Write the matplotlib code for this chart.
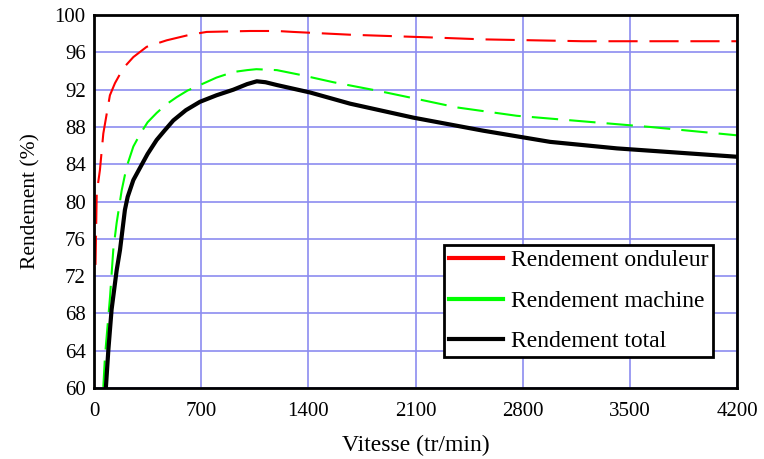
import matplotlib
matplotlib.use("Agg")
import matplotlib.pyplot as plt
from matplotlib.lines import Line2D

plt.rcParams['font.family'] = ['Liberation Serif', 'DejaVu Serif']
plt.rcParams['lines.scale_dashes'] = False

# Data
vitesse_onduleur = [10, 18, 39, 61, 104, 137, 191, 257, 344, 475, 627, 736, 1019, 1195, 1300,
                    1672, 2215, 2541, 3194, 4200]
rend_onduleur = [73.2, 80.9, 83.4, 87.3, 91.4, 92.7, 94.3, 95.5, 96.6, 97.3, 97.9, 98.2, 98.3, 98.3, 98.2,
                 97.9, 97.6, 97.4, 97.2, 97.2]

vitesse_machine = [61, 72, 105, 126, 148, 181, 213, 257, 300, 350, 409, 470, 540, 610, 692, 800, 910,
                   1000, 1060, 1194, 1345, 1563, 1848, 2110, 2368, 2760, 3195, 3631, 4200]
rend_machine = [60.1, 63.4, 69.8, 74.8, 77.7, 81.2, 83.7, 85.9, 87.2, 88.5, 89.5, 90.4, 91.2, 91.9, 92.5,
                93.3, 93.9, 94.1, 94.2, 94.1, 93.6, 92.8, 91.9, 91.0, 90.1, 89.2, 88.6, 88.0, 87.1]

vitesse_total = [78, 94, 115, 148, 170, 202, 220, 257, 300, 350, 409, 460, 518, 600, 692, 800, 910,
                 1000, 1063, 1120, 1194, 1411, 1672, 2085, 2541, 2978, 3414, 3851, 4200]
rend_total = [60.1, 64.1, 68.4, 72.6, 74.8, 79.1, 80.5, 82.3, 83.6, 85.1, 86.6, 87.6, 88.7, 89.8, 90.7,
              91.4, 92.0, 92.6, 92.9, 92.8, 92.5, 91.7, 90.5, 89.0, 87.6, 86.4, 85.7, 85.2, 84.8]

x_ticks = [0, 700, 1400, 2100, 2800, 3500, 4200]
y_ticks = [60, 64, 68, 72, 76, 80, 84, 88, 92, 96, 100]

fig = plt.figure(figsize=(7.64, 4.59), dpi=100)
ax = fig.add_axes([0.123, 0.155, 0.842, 0.812])

l1, = ax.plot(vitesse_onduleur, rend_onduleur, color='#ff0000', lw=1.5, dashes=(21, 8.5),
              label='Rendement onduleur')
l2, = ax.plot(vitesse_machine, rend_machine, color='#00ff00', lw=1.5, dashes=(19, 8),
              label='Rendement machine')
l3, = ax.plot(vitesse_total, rend_total, color='black', lw=3, label='Rendement total')

ax.set_xlim(0, 4200)
ax.set_ylim(60, 100)
ax.set_xticks(x_ticks)
ax.set_yticks(y_ticks)
ax.grid(True, color='#8c8cf0', lw=1.2)
ax.set_axisbelow(True)
for s in ax.spines.values():
    s.set_color('black')
    s.set_linewidth(2)
ax.tick_params(axis='both', length=0, labelsize=15)
ax.tick_params(axis='x', pad=10)
ax.tick_params(axis='y', pad=6)

ax.set_xlabel('Vitesse (tr/min)', fontsize=17, labelpad=10)
ax.set_ylabel('Rendement (%)', fontsize=15.5, labelpad=10)

handles = [Line2D([], [], color='#ff0000', lw=3), Line2D([], [], color='#00ff00', lw=3),
           Line2D([], [], color='black', lw=3)]
leg = ax.legend(handles, [l1.get_label(), l2.get_label(), l3.get_label()],
                loc='upper right', bbox_to_anchor=(0.963, 0.383), borderaxespad=0, fontsize=17,
                fancybox=False, framealpha=1, edgecolor='black', handlelength=2.3,
                labelspacing=0.8, borderpad=0.2, handletextpad=0.35)
leg.get_frame().set_linewidth(2)

fig.savefig('out.png', dpi=100)
